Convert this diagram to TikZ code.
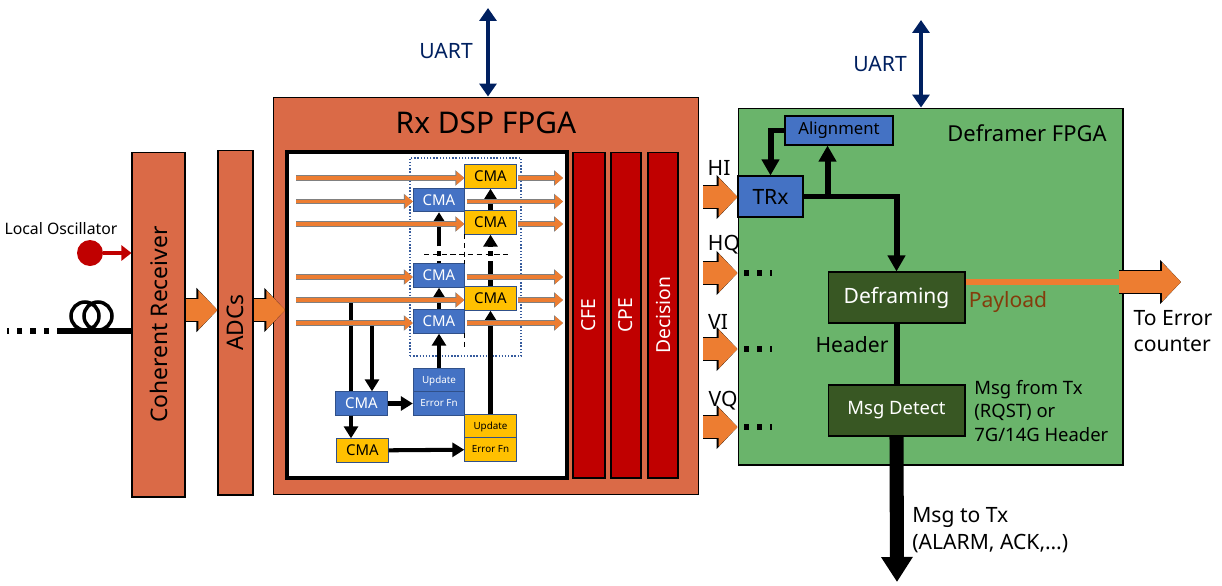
\documentclass[tikz,border=0pt]{standalone}
\usepackage{fontspec}
\setmainfont{Noto Sans}
\usepackage{xcolor}
\usetikzlibrary{arrows.meta, positioning, calc}
\definecolor{blockorange}{HTML}{DA6A47}
\definecolor{arroworange}{HTML}{ED7D31}
\definecolor{darkred}{HTML}{C00000}
\definecolor{cmablue}{HTML}{4472C4}
\definecolor{cmayellow}{HTML}{FFC000}
\definecolor{boardgreen}{HTML}{6AB46B}
\definecolor{darkgreen}{HTML}{385723}
\definecolor{navy}{HTML}{002060}
\definecolor{payload}{HTML}{843C0C}

\begin{document}
\begin{tikzpicture}[
    x=0.02cm, y=-0.02cm,
    txt/.style={inner sep=0pt, align=left, font=\fontsize{#1}{15}\selectfont},
    txtb/.style={inner sep=0pt, align=left, font=\fontsize{#1}{15}\selectfont\bfseries},
    block/.style={draw=black, line width=0.6pt, fill=#1, inner sep=0pt, align=center},
    tallblock/.style={block=blockorange, minimum height=6.9cm, font=\fontsize{13}{13}\selectfont},
    redblock/.style={block=darkred, rotate=90, minimum width=6.52cm, minimum height=#1, font=\fontsize{11}{11}\selectfont, text=white},
    cmab/.style={draw=cmablue!70!black, line width=0.5pt, fill=cmablue, inner sep=0pt, minimum width=1.03cm, minimum height=0.47cm, font=\fontsize{8.5}{9}\selectfont\bfseries, text=white},
    cmay/.style={draw=cmablue!70!black, line width=0.5pt, fill=cmayellow, inner sep=0pt, minimum width=1.03cm, minimum height=0.47cm, font=\fontsize{8.5}{9}\selectfont\bfseries, text=black},
    smallb/.style={cmab, font=\fontsize{5.6}{6}\selectfont\bfseries},
    smally/.style={cmay, font=\fontsize{5.6}{6}\selectfont\bfseries},
    greenbox/.style={block=darkgreen, minimum width=2.74cm, minimum height=1.02cm, text=white, font=\fontsize{#1}{#1}\selectfont},
    thinarrow/.style={draw=arroworange, line width=2.2pt, -{Triangle[length=0.16cm, width=0.26cm]}, preaction={draw=black!50, line width=2.9pt, -{Triangle[length=0.18cm, width=0.3cm]}}},
    bigarrow/.style={draw=arroworange, line width=12.6pt, -{Triangle[length=0.38cm, width=0.76cm]}, preaction={draw=black, line width=13.6pt, -{Triangle[length=0.42cm, width=0.86cm]}}},
    thickarrow/.style={draw=black, line width=2.3pt, -{Triangle[length=0.24cm, width=0.28cm]}},
    framearrow/.style={draw=black, line width=3.4pt, -{Triangle[length=0.32cm, width=0.34cm]}},
    uartarrow/.style={draw=navy, line width=2.3pt, {Triangle[length=0.26cm, width=0.34cm]}-{Triangle[length=0.26cm, width=0.34cm]}},
    dots/.style={draw=black, line width=3pt, dash pattern=on 3pt off 4.5pt},
]
    \useasboundingbox (0,0) rectangle (1222,585);

    % Front end
    \node[tallblock, minimum width=1.06cm] (coherent) at (158.5,324.5) {\rotatebox{90}{Coherent Receiver}};
    \node[tallblock, minimum width=0.7cm] (adcs) at (235.5,322.5) {\rotatebox{90}{ADCs}};
    \node[circle, fill=darkred, minimum size=0.52cm, inner sep=0pt] (osc) at (90,253) {};
    \node[txt=9] (osclabel) at (61,229) {Local Oscillator};
    \coordinate (fiberend) at (62,331);
    \coordinate (fiberstart) at (7,331);
    \draw[draw=darkred, line width=2.6pt, -{Triangle[length=0.2cm, width=0.3cm]}] (osc) -- (osc -| coherent.west);
    \draw[line width=3.4pt] (fiberend) -- (fiberend -| coherent.west);
    \draw[dots] (fiberend) -- (fiberstart);
    \draw[line width=2pt] (85,316) circle[radius=14] (98,316) circle[radius=14];

    % Rx DSP board
    \node[block=blockorange, minimum width=8.52cm, minimum height=7.96cm] (rxdsp) at (486,296) {};
    \node[txtb=17] (rxtitle) at (486,123) {Rx DSP FPGA};
    \node[draw=black, line width=2pt, fill=white, minimum width=5.6cm, minimum height=6.52cm, inner sep=0pt] (inner) at (427,315) {};
    \node[redblock=0.64cm] (cfe) at (589,315) {CFE};
    \node[redblock=0.6cm] (cpe) at (626,315) {CPE};
    \node[redblock=0.6cm] (decision) at (663,315) {Decision};
    \coordinate (adcin) at (0,310);
    \draw[bigarrow] (coherent.east |- adcin) -- (adcs.west |- adcin);
    \draw[bigarrow] (adcs.east |- adcin) -- (inner.west |- adcin);

    % Equaliser stages
    \node[draw=cmablue!80!black, densely dotted, line width=0.8pt, minimum width=2.22cm, minimum height=3.96cm, inner sep=0pt] (stages) at (465.5,257) {};
    \node[cmay] (cy1) at (490.5,176.5) {CMA};
    \node[cmab] (cb1) at (439,200) {CMA};
    \node[cmay] (cy2) at (490.5,222.5) {CMA};
    \node[cmab] (cb2) at (439,275.5) {CMA};
    \node[cmay] (cy3) at (490.5,298.5) {CMA};
    \node[cmab] (cb3) at (439,321.5) {CMA};
    \node[smallb] (updb) at (439,380.5) {Update};
    \node[smallb] (errb) at (439,403.5) {Error Fn};
    \node[smally] (updy) at (490.5,426.5) {Update};
    \node[smally] (erry) at (490.5,449.5) {Error Fn};
    \node[cmab] (cmaleftb) at (361.5,403.5) {CMA};
    \node[cmay] (cmalefty) at (362.5,450.5) {CMA};

    % Dashed separators
    \draw[densely dashed, line width=0.5pt] (424,254) -- (510,254);
    \draw[densely dashed, line width=0.5pt] (464.5,234) -- (464.5,264);
    \draw[densely dashed, line width=0.5pt] (464.5,333) -- (464.5,350);

    % Tap lines and feedback
    \coordinate (tapa) at (351,299);
    \coordinate (tapb) at (372,323);
    \draw[line width=2.3pt] (tapa) -- (tapa |- cmaleftb.north);
    \draw[thickarrow] (tapb) -- (tapb |- cmaleftb.north);
    \draw[thickarrow] (tapa |- cmaleftb.south) -- (tapa |- cmalefty.north);
    \draw[thickarrow] (cmaleftb) -- (errb);
    \draw[thickarrow] (cmalefty) -- (erry);
    \draw[thickarrow] (updb) -- (cb3);
    \draw[thickarrow] (cb3) -- (cb2);
    \draw[thickarrow, dash pattern=on 0.04cm off 0.1cm on 0.1cm off 0.1cm on 2cm] (cb2) -- (cb1);
    \draw[thickarrow] (updy) -- (cy3);
    \draw[thickarrow, dash pattern=on 0.5cm off 0.1cm on 0.1cm off 0.1cm on 2cm] (cy3) -- (cy2);
    \draw[thickarrow] (cy2) -- (cy1);

    % Orange signal lines
    \coordinate (linestart) at (296,0);
    \coordinate (lineend) at (563,0);
    \foreach \tgt in {cy1, cb1, cy2, cb2, cy3, cb3} {
        \coordinate (tin) at ([yshift=-0.03cm]\tgt.west);
        \coordinate (tout) at ([xshift=0.03cm, yshift=-0.03cm]\tgt.east);
        \draw[thinarrow] (tin -| linestart) -- (tin);
        \draw[thinarrow] (tout) -- (tout -| lineend);
    }

    % UART links
    \coordinate (uartl) at (488,8);
    \coordinate (uartr) at (921,20);
    \draw[uartarrow] (uartl) -- (uartl |- rxdsp.north);
    \node[txtb=12, text=navy] (uartltext) at (446,51) {UART};

    % Deframer board
    \node[block=boardgreen, minimum width=7.7cm, minimum height=7.14cm] (deframer) at (930.5,286.5) {};
    \draw[uartarrow] (uartr) -- (uartr |- deframer.north);
    \node[txtb=12, text=navy] (uartrtext) at (880,64) {UART};
    \node[txtb=12.5] (deftitle) at (1027,133) {Deframer FPGA};
    \node[block=cmablue, minimum width=2.16cm, minimum height=0.58cm, font=\fontsize{9.5}{9.5}\selectfont] (align) at (839,130.5) {Alignment};
    \node[block=cmablue, minimum width=1.3cm, minimum height=0.82cm, font=\fontsize{12}{12}\selectfont] (trx) at (770.5,196.5) {TRx};
    \node[greenbox=12] (deframing) at (896.5,297.5) {Deframing};
    \node[greenbox=10.5] (msgdetect) at (896.5,410.5) {Msg Detect};
    \draw[framearrow] (align.west) -| (trx.north);
    \draw[framearrow] (trx.east) -| (deframing.north);
    \coordinate (branch) at ($(trx.east)+(24,0)$);
    \draw[framearrow] (branch) -- (branch |- align.south);
    \draw[line width=3.4pt] (deframing) -- (msgdetect);
    \coordinate (msgend) at (897,582);
    \draw[draw=black, line width=8pt, -{Triangle[length=0.5cm, width=0.6cm]}] (msgdetect.south) -- (msgend);

    % Payload path
    \coordinate (payy) at (0,282);
    \coordinate (errstart) at (1119,282);
    \coordinate (errend) at (1181,282);
    \draw[draw=arroworange, line width=3.2pt] (deframing.east |- payy) -- (errstart);
    \draw[bigarrow] (errstart) -- (errend);
    \node[txt=12, text=payload] (paytext) at (1008,302) {Payload};
    \node[txt=12] (errtext) at (1173,331) {To Error\\counter};
    \node[txt=12] (headtext) at (852,345) {Header};
    \node[txt=10.5, font=\fontsize{10.5}{13.6}\selectfont, anchor=west] (msgtext) at (974,411) {Msg from Tx\\(RQST) or\\7G/14G Header};
    \node[txt=12, anchor=west] (totext) at (912,530) {Msg to Tx\\(ALARM, ACK,…)};

    % Channel inputs
    \foreach \nm/\lx/\ly/\ay in {HI/719/168/197, HQ/724/245/273, VI/718/322/349, VQ/723/401/427} {
        \node[txt=12] (lab\nm) at (\lx,\ly) {\nm};
        \coordinate (chan) at (703,\ay);
        \draw[bigarrow] (chan) -- (chan -| deframer.west);
    }
    \foreach \ay in {273, 349, 427} {
        \coordinate (chan) at (744,\ay);
        \draw[dots] (chan) -- ++(28,0);
    }
\end{tikzpicture}
\end{document}
